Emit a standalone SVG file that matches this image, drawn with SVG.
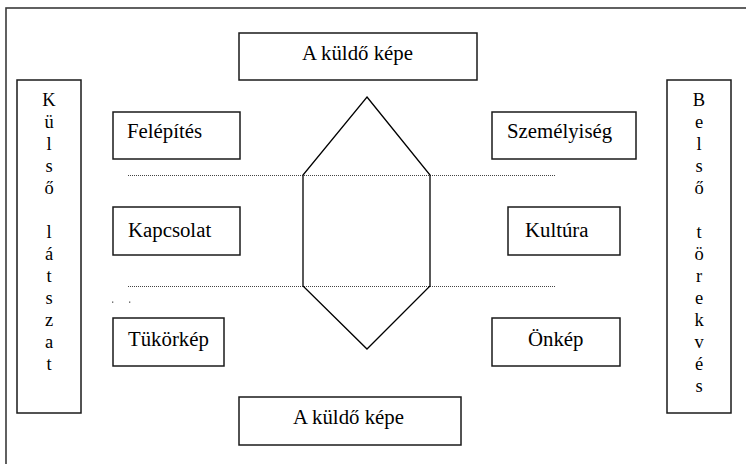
<svg xmlns="http://www.w3.org/2000/svg" width="746" height="464" viewBox="0 0 746 464">
<style>
.box{fill:#fff;stroke:#1a1a1a;stroke-width:1.5}
.frame{fill:#fff;stroke:#3a3a3a;stroke-width:1.6}
.t{font-family:'Liberation Serif','Times New Roman',serif;font-size:20.8px;fill:#000}
.v{font-family:'Liberation Serif','Times New Roman',serif;font-size:18.5px;fill:#000;text-anchor:middle}
.dot{stroke:#444;stroke-width:1;stroke-dasharray:1 1;fill:none}
.hex{fill:none;stroke:#000;stroke-width:1.3}
</style>
<rect class="frame" x="6" y="8" width="760" height="480"/>
<g id="connectors">
<line class="dot" x1="128" y1="175.5" x2="556" y2="175.5"/>
<line class="dot" x1="128" y1="286.5" x2="556" y2="286.5"/>
<polygon class="hex" points="367,97 430,175 430,286 367,349 303,286 303,175"/>
<rect x="112" y="301.5" width="1.3" height="1.3" fill="#555"/>
<rect x="129" y="301.5" width="1.3" height="1.3" fill="#555"/>
</g>
<g id="top-sender">
<rect class="box" x="239" y="33" width="238" height="47"/>
<text class="t" x="302" y="60">A küldő képe</text>
</g>
<g id="bottom-sender">
<rect class="box" x="239" y="397" width="222" height="48"/>
<text class="t" x="293" y="424">A küldő képe</text>
</g>
<g id="kulso">
<rect class="box" x="17" y="80" width="64" height="333"/>
<text class="v" x="49" y="106">K</text>
<text class="v" x="49" y="128">ü</text>
<text class="v" x="49" y="150">l</text>
<text class="v" x="49" y="172">s</text>
<text class="v" x="49" y="194">ő</text>
<text class="v" x="49" y="238">l</text>
<text class="v" x="49" y="260">á</text>
<text class="v" x="49" y="282">t</text>
<text class="v" x="49" y="304">s</text>
<text class="v" x="49" y="326">z</text>
<text class="v" x="49" y="348">a</text>
<text class="v" x="49" y="370">t</text>
</g>
<g id="belso">
<rect class="box" x="667" y="80" width="64" height="333"/>
<text class="v" x="699" y="106">B</text>
<text class="v" x="699" y="128">e</text>
<text class="v" x="699" y="150">l</text>
<text class="v" x="699" y="172">s</text>
<text class="v" x="699" y="194">ő</text>
<text class="v" x="699" y="238">t</text>
<text class="v" x="699" y="260">ö</text>
<text class="v" x="699" y="282">r</text>
<text class="v" x="699" y="304">e</text>
<text class="v" x="699" y="326">k</text>
<text class="v" x="699" y="348">v</text>
<text class="v" x="699" y="370">é</text>
<text class="v" x="699" y="392">s</text>
</g>
<g id="felepites">
<rect class="box" x="113" y="112" width="127" height="47"/>
<text class="t" x="127" y="138">Felépítés</text>
</g>
<g id="kapcsolat">
<rect class="box" x="113" y="207" width="127" height="48"/>
<text class="t" x="128" y="237">Kapcsolat</text>
</g>
<g id="tukorkep">
<rect class="box" x="113" y="318" width="111" height="48"/>
<text class="t" x="128" y="346">Tükörkép</text>
</g>
<g id="szemelyiseg">
<rect class="box" x="492" y="112" width="144" height="47"/>
<text class="t" x="507" y="138">Személyiség</text>
</g>
<g id="kultura">
<rect class="box" x="508" y="207" width="112" height="48"/>
<text class="t" x="525" y="237">Kultúra</text>
</g>
<g id="onkep">
<rect class="box" x="492" y="318" width="128" height="48"/>
<text class="t" x="528" y="346">Önkép</text>
</g>
</svg>
